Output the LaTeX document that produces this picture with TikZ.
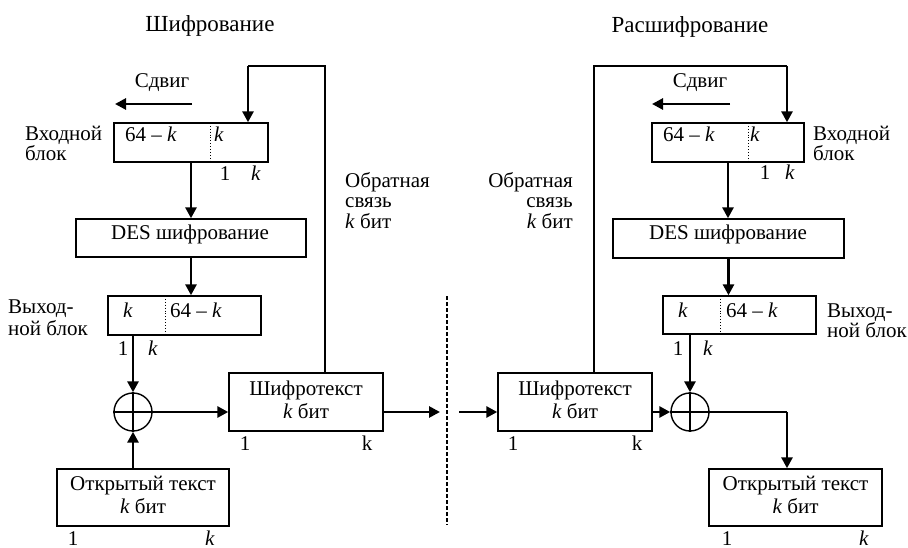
\documentclass[tikz,border=0pt]{standalone}
\usepackage{fontspec}
\setmainfont{Liberation Serif}
\usetikzlibrary{arrows.meta}
\newcommand\fs{\fontsize{21}{23}\selectfont}
\newcommand\ftitle{\fontsize{23}{25}\selectfont}
\begin{document}
\begin{tikzpicture}[x=1pt,y=-1pt,
  wire/.style={line width=1.4pt},
  flow/.style={line width=2.7pt,-{Triangle[length=11pt,width=11pt]}},
  box/.style={draw,line width=1.4pt,inner sep=0pt},
  lbl/.style={inner sep=0pt,anchor=base,font=\fs},
  lblw/.style={inner sep=0pt,anchor=base west,font=\fs},
  lble/.style={inner sep=0pt,anchor=base east,font=\fs},
  divider/.style={dotted,line width=0.9pt},
  xor/.style={draw,circle,line width=1.4pt,minimum size=38pt,inner sep=0pt}]
\useasboundingbox (0,0) rectangle (908,548);

% ---------------- Left: encryption ----------------
\node[lbl,font=\ftitle] (t1) at (210,32) {Шифрование};
\node[lbl] (s1) at (162,88) {Сдвиг};
\coordinate (s1a) at (192,104);
\coordinate (s1b) at (115,104);
\draw[flow] (s1a) -- (s1b);

\node[box,minimum width=154pt,minimum height=39pt] (inL) at (191,142.5) {};
\draw[divider] (210,123) -- (210,162);
\node[lblw] (inLa) at (125,142) {64 – \textit{k}};
\node[lbl] (inLb) at (219,142) {\textit{k}};
\node[lblw] (inLl1) at (25,141) {Входной};
\node[lblw] (inLl2) at (25,161) {блок};
\node[lbl] (inL1) at (225,181) {1};
\node[lbl] (inLk) at (256,181) {\textit{k}};

\node[lblw] (fbL1) at (345,188) {Обратная};
\node[lblw] (fbL2) at (345,208) {связь};
\node[lblw] (fbL3) at (345,229) {\textit{k} бит};

\node[box,minimum width=230pt,minimum height=38pt] (desL) at (191,238) {};
\node[lbl] (desLt) at (190,240) {DES шифрование};

\node[box,minimum width=153pt,minimum height=39pt] (outL) at (184.5,315.5) {};
\draw[divider] (165,296) -- (165,335);
\node[lbl] (outLa) at (128,317) {\textit{k}};
\node[lblw] (outLb) at (170,317) {64 – \textit{k}};
\node[lblw] (outLl1) at (8,313) {Выход-};
\node[lblw] (outLl2) at (8,335) {ной блок};
\node[lbl] (outL1) at (123,355) {1};
\node[lbl] (outLk) at (153,355) {\textit{k}};

\node[xor] (xorL) at (133,412) {};
\draw[wire] (xorL.north) -- (xorL.south) (xorL.west) -- (xorL.east);

\node[box,minimum width=154pt,minimum height=58pt] (ctL) at (306,402) {};
\node[lbl] (ctLt1) at (306,395) {Шифротекст};
\node[lbl] (ctLt2) at (306,418) {\textit{k} бит};
\node[lbl] (ctL1) at (245,450) {1};
\node[lbl] (ctLk) at (367,450) {k};

\node[box,minimum width=172pt,minimum height=57pt] (ptL) at (143,497.5) {};
\node[lbl] (ptLt1) at (143,490) {Открытый текст};
\node[lbl] (ptLt2) at (143,513) {\textit{k} бит};
\node[lbl] (ptL1) at (73,545) {1};
\node[lbl] (ptLk) at (210,545) {\textit{k}};

% connectors left
\coordinate (fbLtop) at (325,66);
\coordinate (fbLcorner) at (248,66);
\draw[wire] (ctL.north -| fbLtop) -- (fbLtop) -- (fbLcorner);
\draw[flow] (fbLcorner) -- (fbLcorner |- inL.north);
\draw[flow] (inL.south) -- (desL.north);
\draw[flow] (desL.south) -- (desL.south |- outL.north);
\draw[flow] (outL.south -| xorL.north) -- (xorL.north);
\draw[flow] (ptL.north -| xorL.south) -- (xorL.south);
\draw[flow] (xorL.east) -- (xorL.east -| ctL.west);
\coordinate (cutL) at (440,412);
\draw[flow] (ctL.east |- cutL) -- (cutL);

% dashed separator
\coordinate (d1) at (447,296);
\coordinate (d2) at (447,525);
\draw[line width=1.4pt,dash pattern=on 4pt off 2pt] (d1) -- (d2);

% ---------------- Right: decryption ----------------
\node[lbl,font=\ftitle] (t2) at (690,33) {Расшифрование};
\node[lbl] (s2) at (700,88) {Сдвиг};
\coordinate (s2a) at (730,104);
\coordinate (s2b) at (652,104);
\draw[flow] (s2a) -- (s2b);

\node[box,minimum width=152pt,minimum height=39pt] (inR) at (728,142.5) {};
\draw[divider] (748,123) -- (748,162);
\node[lblw] (inRa) at (663,142) {64 – \textit{k}};
\node[lbl] (inRb) at (755,142) {\textit{k}};
\node[lblw] (inRl1) at (813,141) {Входной};
\node[lblw] (inRl2) at (813,161) {блок};
\node[lbl] (inR1) at (765,180) {1};
\node[lbl] (inRk) at (790,180) {\textit{k}};

\node[lble] (fbR1) at (573,188) {Обратная};
\node[lble] (fbR2) at (573,208) {связь};
\node[lble] (fbR3) at (573,229) {\textit{k} бит};

\node[box,minimum width=231pt,minimum height=39pt] (desR) at (728.5,238.5) {};
\node[lbl] (desRt) at (728,240) {DES шифрование};

\node[box,minimum width=153pt,minimum height=38pt] (outR) at (739.5,315) {};
\draw[divider] (720,296) -- (720,334);
\node[lbl] (outRa) at (683,317) {\textit{k}};
\node[lblw] (outRb) at (726,317) {64 – \textit{k}};
\node[lblw] (outRl1) at (827,317) {Выход-};
\node[lblw] (outRl2) at (827,337) {ной блок};
\node[lbl] (outR1) at (678,355) {1};
\node[lbl] (outRk) at (708,355) {\textit{k}};

\node[box,minimum width=154pt,minimum height=58pt] (ctR) at (575,402) {};
\node[lbl] (ctRt1) at (575,395) {Шифротекст};
\node[lbl] (ctRt2) at (575,418) {\textit{k} бит};
\node[lbl] (ctR1) at (513,450) {1};
\node[lbl] (ctRk) at (637,450) {k};

\node[xor] (xorR) at (690,412) {};
\draw[wire] (xorR.north) -- (xorR.south) (xorR.west) -- (xorR.east);

\node[box,minimum width=173pt,minimum height=57pt] (ptR) at (795.5,497.5) {};
\node[lbl] (ptRt1) at (795.5,490) {Открытый текст};
\node[lbl] (ptRt2) at (795.5,513) {\textit{k} бит};
\node[lbl] (ptR1) at (727,545) {1};
\node[lbl] (ptRk) at (864,545) {\textit{k}};

% connectors right
\coordinate (fbRtop) at (594,66);
\coordinate (fbRcorner) at (787,66);
\draw[wire] (ctR.north -| fbRtop) -- (fbRtop) -- (fbRcorner);
\draw[flow] (fbRcorner) -- (fbRcorner |- inR.north);
\draw[flow] (inR.south) -- (inR.south |- desR.north);
\draw[flow] (desR.south) -- (desR.south |- outR.north);
\draw[flow] (outR.south -| xorR.north) -- (xorR.north);
\coordinate (cutR) at (459,412);
\draw[flow] (cutR) -- (cutR -| ctR.west);
\draw[flow] (ctR.east |- xorR.west) -- (xorR.west);
\coordinate (outc) at (787,412);
\draw[wire] (xorR.east) -- (outc);
\draw[flow] (outc) -- (outc |- ptR.north);
\end{tikzpicture}
\end{document}
